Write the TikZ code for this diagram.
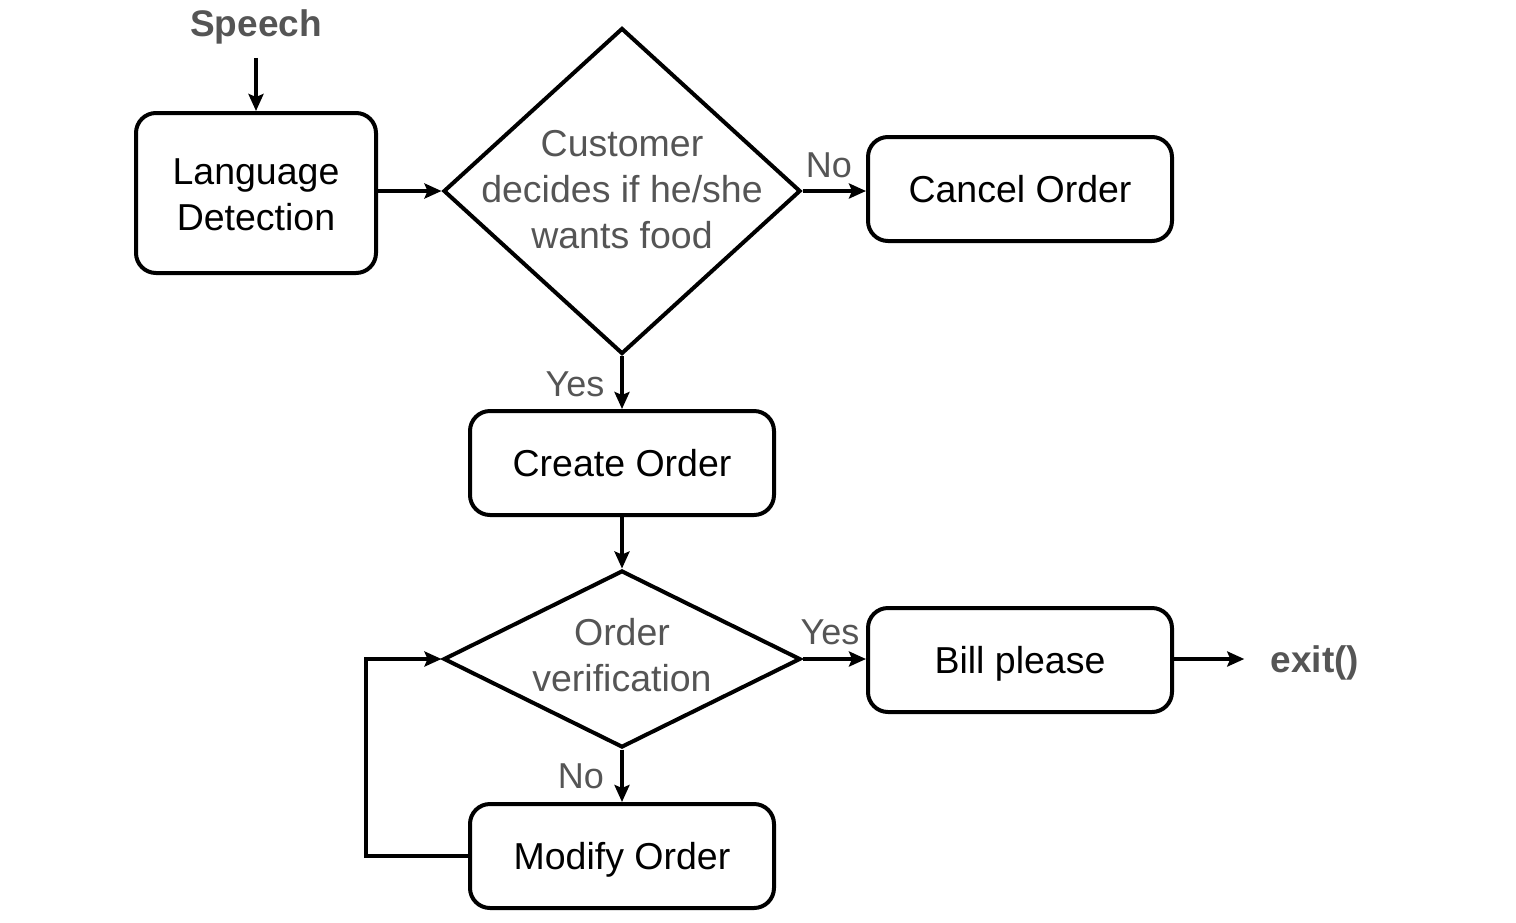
\documentclass[tikz,border=0pt]{standalone}
\usepackage{fontspec}
\setmainfont{Liberation Sans}
\usetikzlibrary{arrows.meta,shapes.geometric}
\definecolor{txtgray}{HTML}{555555}
\begin{document}
\begin{tikzpicture}[x=1pt,y=-1pt,
  box/.style={draw, line width=4pt, rounded corners=20pt, minimum width=304pt, minimum height=104pt, inner sep=0pt, text depth=0pt, align=center, font=\fontsize{37.5}{46}\selectfont},
  dia/.style={draw, diamond, line width=4pt, inner sep=0pt, minimum width=357pt},
  gtxt/.style={text=txtgray, align=center, font=\fontsize{37.5}{46}\selectfont},
  ktxt/.style={align=center, font=\fontsize{37.5}{46}\selectfont},
  lbl/.style={text=txtgray, font=\fontsize{36}{43}\selectfont, inner sep=0pt},
  btxt/.style={text=txtgray, font=\bfseries\fontsize{37}{44}\selectfont},
  conn/.style={line width=4pt, -{Stealth[length=17pt,width=15pt,inset=3pt]}},
]
\useasboundingbox (0,0) rectangle (1516,922);
\node[btxt] (speech) at (256,27) {Speech};
\node[box, minimum width=240pt, minimum height=160pt] (lang) at (256,193) {};
\node[ktxt] (langt) at (256,195) {Language\\Detection};
\node[dia, minimum height=326pt] (d1) at (622,191) {};
\node[gtxt] (d1t) at (622,190) {Customer\\decides if he/she\\wants food};
\node[box] (cancel) at (1020,189) {Cancel Order};
\node[box] (create) at (622,463) {Create Order};
\node[dia, minimum height=177pt] (d2) at (622,659) {};
\node[gtxt] (d2t) at (622,655) {Order\\verification};
\node[box] (bill) at (1020,660) {Bill please};
\node[btxt] (exit) at (1315,663) {exit()};
\node[box] (modify) at (622,856) {Modify Order};
\coordinate (loopc) at (366,856);
\node[lbl] (no1) at (829,165) {No};
\node[lbl] (yes1) at (575,384) {Yes};
\node[lbl] (yes2) at (830,632) {Yes};
\node[lbl] (no2) at (581,776) {No};
\draw[conn, shorten <=10pt] (speech) -- (lang);
\draw[conn] (lang.east |- d1) -- (d1.west);
\draw[conn] (d1.east) -- (cancel.west |- d1);
\draw[conn] (d1.south) -- (create.north);
\draw[conn] (create.south) -- (d2.north);
\draw[conn] (d2.east) -- (bill.west |- d2);
\draw[conn, shorten >=23pt] (bill.east |- d2) -- (exit.west |- d2);
\draw[conn] (d2.south) -- (modify.north);
\draw[conn] (modify.west) -- (loopc) |- (d2.west);
\end{tikzpicture}
\end{document}
